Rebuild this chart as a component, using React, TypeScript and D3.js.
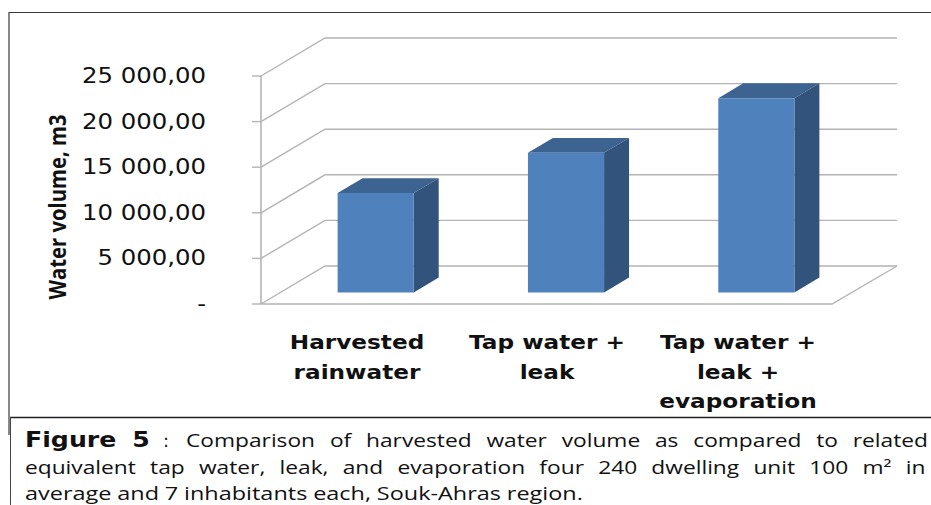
import React from "react";
import * as d3 from "d3";

const categories = [["Harvested", "rainwater"], ["Tap water +", "leak"], ["Tap water +", "leak +", "evaporation"]];
const values = [10900, 15300, 21300];
const ticks = [0, 5000, 10000, 15000, 20000, 25000];
const tickLabels = ["-", "5 000,00", "10 000,00", "15 000,00", "20 000,00", "25 000,00"];
const yTitle = "Water volume, m3";
const captionBold = "Figure 5";
const captionColon = ":";
const captionLines = [
  "Comparison of harvested water volume as compared to related",
  "equivalent tap water, leak, and evaporation four 240 dwelling unit 100 m² in",
  "average and 7 inhabitants each, Souk-Ahras region.",
];

const W = 931, H = 505;
const y = d3.scaleLinear().domain([0, 25000]).range([304, 76]);
const x = d3.scaleBand().domain(["0", "1", "2"]).range([261, 832]).paddingInner(0.6).paddingOuter(0.3);
const depthX = d3.scaleLinear().domain([0, 1]).range([0, 64]);
const depthY = d3.scaleLinear().domain([0, 1]).range([0, -38]);
const P = (xv: number, yv: number, d: number): [number, number] => [xv + depthX(d), y(yv) + depthY(d)];
const poly = (pts: [number, number][]) => d3.line()(pts)! + "Z";
const barD0 = 0.305, barD1 = 0.695;
const GRID = "#b4b4b4";
const DEJAVU = "'DejaVu Sans', Verdana, sans-serif";
const OPEN = "'Open Sans', sans-serif";
const catCx = [357, 547, 738];

export default function App() {
  const x0 = 261, x1 = 832;
  return (
    <svg width={W} height={H} style={{ position: "absolute", left: 0, top: 0, background: "#fff" }}>
      <path d="M9,435V12.5H931" fill="none" stroke="#3a3a3a" strokeWidth={1.2} />
      <path d="M10,417.5H931" stroke="#222" strokeWidth={1.4} fill="none" />
      <path d="M10.5,417V505" stroke="#444" strokeWidth={1} fill="none" />

      {ticks.map((t) => (
        <g key={t}>
          <path d={d3.line()([P(x0, t, 0), P(x0, t, 1), P(x1 + 1, t, 1)])!} fill="none" stroke={GRID} strokeWidth={1.4} />
          <path d={`M${x0 - 9},${y(t)}H${x0}`} stroke={GRID} strokeWidth={1.4} />
        </g>
      ))}
      <path d={`M${x0},${y(0)}V${y(25000)}`} stroke={GRID} strokeWidth={1.6} />
      <path d={d3.line()([P(x0, 0, 0), P(x1, 0, 0), P(x1 + 1, 0, 1)])!} fill="none" stroke={GRID} strokeWidth={1.4} />

      {values.map((v, i) => {
        const l = x(String(i))!, r = l + x.bandwidth();
        return (
          <g key={i}>
            <path d={poly([P(l, v, barD0), P(l, v, barD1), P(r, v, barD1), P(r, v, barD0)])} fill="#3d6391" />
            <path d={poly([P(r, 0, barD0), P(r, 0, barD1), P(r, v, barD1), P(r, v, barD0)])} fill="#32537c" />
            <path d={poly([P(l, 0, barD0), P(r, 0, barD0), P(r, v, barD0), P(l, v, barD0)])} fill="#4f81bd" />
          </g>
        );
      })}

      {ticks.map((t, i) => (
        <text key={t} transform={`translate(206,${y(t) + 7}) scale(1.19,1)`} textAnchor="end" fontFamily={DEJAVU} fontSize={20.5} fill="#111">
          {tickLabels[i]}
        </text>
      ))}
      <text transform="translate(66,207) rotate(-90)" textAnchor="middle" fontFamily={OPEN} fontWeight={700} fontSize={24} textLength={185} lengthAdjust="spacingAndGlyphs" fill="#111">
        {yTitle}
      </text>

      {categories.map((lines, i) =>
        lines.map((s, j) => (
          <text key={s + i} transform={`translate(${catCx[i]},${349 + j * 29.5}) scale(1.16,1)`} textAnchor="middle" fontFamily={DEJAVU} fontWeight={700} fontSize={20} fill="#111">
            {s}
          </text>
        ))
      )}

      <text transform="translate(25,447) scale(1.2,1)" fontFamily={DEJAVU} fontWeight={700} fontSize={21} wordSpacing={6} fill="#111">{captionBold}</text>
      <text x={163} y={447} fontFamily={DEJAVU} fontSize={18} fill="#111">{captionColon}</text>
      <text transform="translate(186,447) scale(1.3,1)" fontFamily={OPEN} fontSize={17.5} wordSpacing={6.85} fill="#111">{captionLines[0]}</text>
      <text transform="translate(25,474) scale(1.3,1)" fontFamily={OPEN} fontSize={17.5} wordSpacing={6.4} fill="#111">{captionLines[1]}</text>
      <text transform="translate(25,500) scale(1.34,1)" fontFamily={OPEN} fontSize={17.5} wordSpacing={-0.2} fill="#111">{captionLines[2]}</text>
    </svg>
  );
}
